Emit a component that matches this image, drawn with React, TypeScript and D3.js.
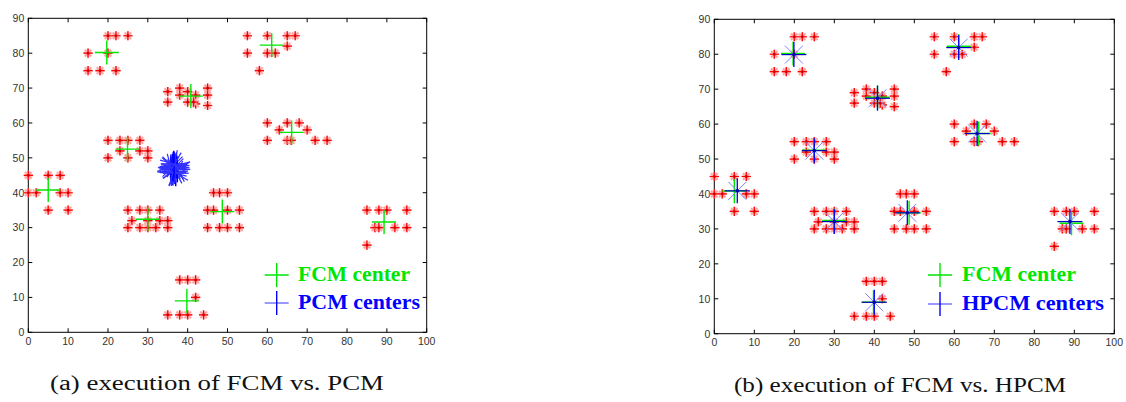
import React from "react";
import * as d3 from "d3";

const dataPoints: [number, number][] = [
  [20, 85], [22, 85], [25, 85], [15, 80], [20, 80], [15, 75], [18, 75], [22, 75],
  [35, 69], [35, 66], [38, 70], [38, 68], [40, 69], [40, 66], [42, 68], [42, 65.5], [41.5, 66], [45, 70], [45, 68], [45, 65],
  [20, 55], [23, 55], [25, 55], [28, 55], [23, 52], [28, 52], [30, 52], [20, 50], [25, 50], [30, 50],
  [55, 85], [60, 85], [65, 85], [67, 85], [65, 82], [55, 80], [60, 80], [62, 80], [58, 75],
  [60, 60], [65, 60], [68, 60], [63, 58], [70, 58], [60, 55], [65, 55], [66, 55], [72, 55], [75, 55],
  [0, 45], [5, 45], [8, 45], [0, 40], [2, 40], [8, 40], [10, 40], [5, 35], [10, 35],
  [25, 35], [28, 35], [30, 35], [33, 35], [26, 32], [30, 32], [33, 32], [35, 32], [25, 30], [28, 30], [30, 30], [32, 30], [35, 30],
  [46.5, 40], [48, 40], [50, 40], [45, 35], [46.5, 35], [50, 35], [53, 35], [45, 30], [48, 30], [50, 30], [53, 30],
  [38, 15], [40, 15], [42, 15], [42, 10], [35, 5], [38, 5], [40, 5], [44, 5],
  [85, 35], [88, 35], [90, 35], [95, 35], [87, 30], [88, 30], [92, 30], [95, 30], [85, 25],
];

const fcmCenters: [number, number][] = [
  [19.7, 80.2], [40.8, 67.7], [24.9, 52.5], [61.1, 82.3], [66.1, 57.3],
  [5.0, 40.8], [30, 32.4], [48.7, 34.6], [39.8, 9.0], [89.3, 31.6],
];

const hpcmCenters: [number, number][] = [
  [19.9, 79.9], [40.8, 67.4], [25.0, 52.4], [61.1, 81.9], [65.7, 57.3],
  [5.75, 40.9], [30.0, 32.1], [48.25, 34.6], [40.0, 9.0], [88.9, 32.1],
];

const pcmCenters: [number, number][] = [
  [36.2, 47.5], [36.8, 46.2], [37.2, 47.8], [35.9, 46.0], [36.5, 48.3], [37.0, 45.6],
  [36.4, 46.9], [37.4, 46.7], [35.8, 47.2], [36.9, 47.2], [36.3, 45.8], [36.6, 48.0],
];

const xTicks = [0, 10, 20, 30, 40, 50, 60, 70, 80, 90, 100];
const yTicks = [0, 10, 20, 30, 40, 50, 60, 70, 80, 90];

const GREEN = "#00e600";
const BLUE = "#0000ff";
const SERIF = "'Liberation Serif', 'DejaVu Serif', 'Noto Serif', 'Times New Roman', serif";
const SANS = "'Liberation Sans', Arial, Helvetica, sans-serif";

function RedStar({ x, y }: { x: number; y: number }) {
  const a = 4.6, d = 3.3;
  return (
    <g>
      <path d={`M${x - a},${y}H${x + a}M${x},${y - a}V${y + a}M${x - d},${y - d}L${x + d},${y + d}M${x - d},${y + d}L${x + d},${y - d}`} stroke="#ffa8a8" strokeWidth={2.2} />
      <path d={`M${x - a},${y}H${x + a}M${x},${y - a}V${y + a}`} stroke="#ff0000" strokeWidth={1.2} />
      <rect x={x - 1.2} y={y - 1.2} width={2.4} height={2.4} fill="#cc0000" />
    </g>
  );
}

function Panel({ x0, x1, y0, y1, mode }: { x0: number; x1: number; y0: number; y1: number; mode: "pcm" | "hpcm" }) {
  const xs = d3.scaleLinear().domain([0, 100]).range([x0, x1]);
  const ys = d3.scaleLinear().domain([0, 90]).range([y0, y1]);
  const tl = 4;
  return (
    <g>
      <rect x={x0} y={y1} width={x1 - x0} height={y0 - y1} fill="white" stroke="black" strokeWidth={1} />
      {xTicks.map((t) => (
        <g key={"x" + t}>
          <line x1={xs(t)} x2={xs(t)} y1={y0} y2={y0 - tl} stroke="black" />
          <line x1={xs(t)} x2={xs(t)} y1={y1} y2={y1 + tl} stroke="black" />
          <text x={xs(t)} y={y0 + 12.5} textAnchor="middle" fontFamily={SANS} fontSize={10.5} fill="#333">{t}</text>
        </g>
      ))}
      {yTicks.map((t) => (
        <g key={"y" + t}>
          <line x1={x0} x2={x0 + tl} y1={ys(t)} y2={ys(t)} stroke="black" />
          <line x1={x1} x2={x1 - tl} y1={ys(t)} y2={ys(t)} stroke="black" />
          <text x={x0 - 4} y={ys(t) + 3.8} textAnchor="end" fontFamily={SANS} fontSize={10.5} fill="#333">{t}</text>
        </g>
      ))}
      {dataPoints.map((p, i) => (
        <RedStar key={"p" + i} x={xs(p[0])} y={ys(p[1])} />
      ))}
      {fcmCenters.map((c, i) => {
        const cx = xs(c[0]), cy = ys(c[1]);
        return <path key={"f" + i} d={`M${cx - 12},${cy}H${cx + 12}M${cx},${cy - 12}V${cy + 12}`} stroke={GREEN} strokeWidth={1.4} />;
      })}
      {mode === "pcm" &&
        pcmCenters.map((c, i) => {
          const cx = xs(c[0]), cy = ys(c[1]);
          const ang = i * 15;
          return (
            <g key={"pc" + i}>
              <path d={`M${cx - 13},${cy}H${cx + 13}`} stroke="#3333ff" strokeWidth={1.4} />
              <path d={`M${cx},${cy - 13}V${cy + 13}`} stroke={BLUE} strokeWidth={1.5} />
              <g transform={`rotate(${ang} ${cx} ${cy})`}>
                <path d={`M${cx - 10},${cy - 10}L${cx + 10},${cy + 10}M${cx - 10},${cy + 10}L${cx + 10},${cy - 10}`} stroke="#3333ff" strokeWidth={1.2} />
              </g>
            </g>
          );
        })}
      {mode === "hpcm" &&
        hpcmCenters.map((c, i) => {
          const cx = xs(c[0]), cy = ys(c[1]);
          return (
            <g key={"hc" + i}>
              <path d={`M${cx - 9},${cy - 9}L${cx + 9},${cy + 9}M${cx - 9},${cy + 9}L${cx + 9},${cy - 9}`} stroke="#7f7fff" strokeWidth={1} />
              <path d={`M${cx - 12.5},${cy}H${cx + 12.5}`} stroke="#0000c0" strokeWidth={1.2} />
              <path d={`M${cx},${cy - 12.5}V${cy + 12.5}`} stroke={BLUE} strokeWidth={1.3} />
              <circle cx={cx} cy={cy} r={1.8} fill="#0000aa" />
            </g>
          );
        })}
    </g>
  );
}

function Legend({ mx, y1, y2, tx, label1, label2, w1, w2 }: { mx: number; y1: number; y2: number; tx: number; label1: string; label2: string; w1: number; w2: number }) {
  const st = { fontFamily: SERIF, fontWeight: 700, fontSize: "21px" } as React.CSSProperties;
  return (
    <g>
      <path d={`M${mx - 12},${y1}H${mx + 12}M${mx},${y1 - 12}V${y1 + 12}`} stroke={GREEN} strokeWidth={1.4} />
      <text x={tx} y={y1 + 6} fill={GREEN} style={st} textLength={w1} lengthAdjust="spacingAndGlyphs">{label1}</text>
      <path d={`M${mx - 12},${y2}H${mx + 12}`} stroke="#7777ff" strokeWidth={1.5} />
      <path d={`M${mx},${y2 - 12}V${y2 + 12}`} stroke={BLUE} strokeWidth={1.4} />
      <text x={tx} y={y2 + 6} fill={BLUE} style={st} textLength={w2} lengthAdjust="spacingAndGlyphs">{label2}</text>
    </g>
  );
}

export default function App() {
  const cap = { fontFamily: SERIF, fontSize: "20px" } as React.CSSProperties;
  return (
    <svg width={1126} height={402} style={{ position: "absolute", left: 0, top: 0, background: "white" }}>
      <rect x={0} y={0} width={1126} height={402} fill="white" />
      <Panel x0={28.3} x1={426.7} y0={332.3} y1={18.3} mode="pcm" />
      <Panel x0={714.3} x1={1114.3} y0={333.7} y1={19.3} mode="hpcm" />
      <Legend mx={276.7} y1={275} y2={303} tx={298} label1="FCM center" label2="PCM centers" w1={112} w2={122} />
      <Legend mx={940} y1={275} y2={304} tx={962} label1="FCM center" label2="HPCM centers" w1={114} w2={142} />
      <text x={50} y={390} style={cap} fill="#111" textLength={334} lengthAdjust="spacingAndGlyphs">(a)  execution of FCM vs. PCM</text>
      <text x={734} y={392} style={cap} fill="#111" textLength={332} lengthAdjust="spacingAndGlyphs">(b)  execution of FCM vs. HPCM</text>
    </svg>
  );
}
